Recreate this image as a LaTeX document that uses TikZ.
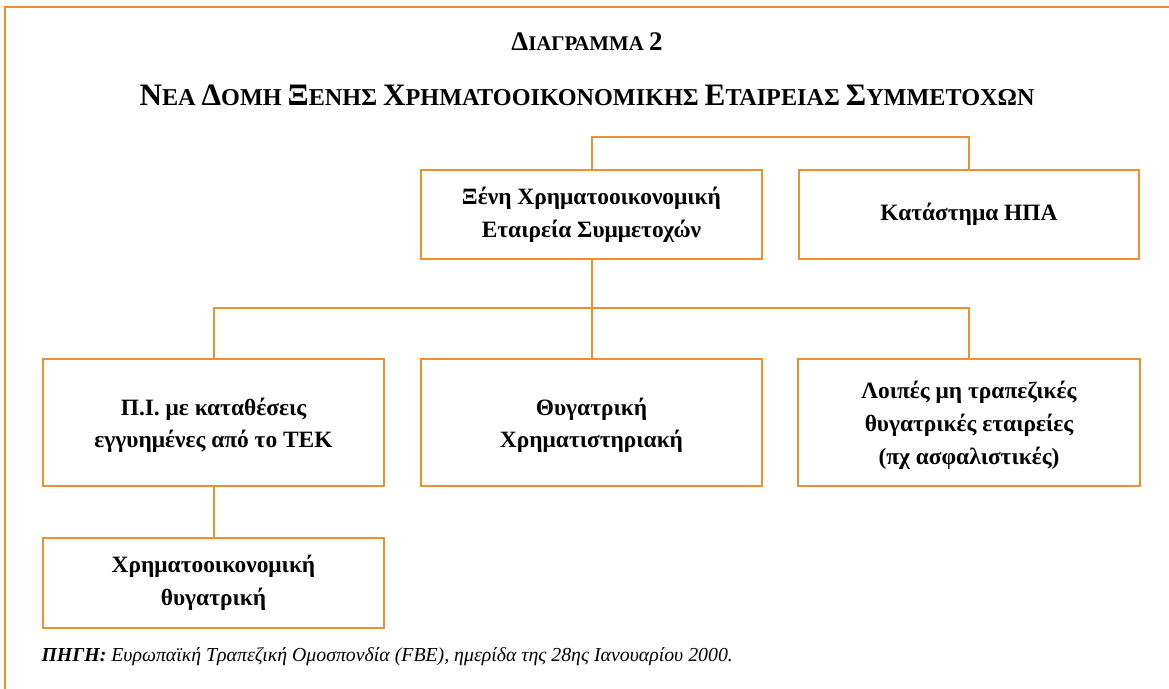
\documentclass[tikz,border=0pt]{standalone}
\usepackage{fontspec}
\setmainfont{Liberation Serif}
\usepackage{tikz}
\usetikzlibrary{positioning}
\definecolor{chartorange}{RGB}{234,145,48}

% word in faked small capitals: big first letter, smaller rest
\newcommand{\capword}[3][1]{{\fontsize{#1\dimexpr29pt}{30}\selectfont #2}{\fontsize{#1\dimexpr22.5pt}{24}\selectfont #3}}

\tikzset{
  orgbox/.style={draw=chartorange, line width=1.4pt, minimum width=341bp,
    align=center, inner sep=0pt, font=\bfseries\fontsize{23.5}{33}\selectfont},
  orgline/.style={draw=chartorange, line width=1.5pt},
  linkline/.style={draw=chartorange, line width=2bp}
}

\begin{document}
\begin{tikzpicture}[x=1bp, y=-1bp]
  \useasboundingbox (0,0) rectangle (1169,689);

  % Frame (top and left only)
  \draw[orgline] (5,689) -- (5,7) -- (1169,7);

  % Titles
  \node[font=\bfseries\fontsize{21}{24}\selectfont] (title) at (587,42)
    {\capword[0.93]{Δ}{ΙΑΓΡΑΜΜΑ} \capword[0.93]{2}{}};
  \node[font=\bfseries\fontsize{24}{24}\selectfont] (subtitle) at (587,95)
    {\capword[1.08]{Ν}{ΕΑ} \capword[1.08]{Δ}{ΟΜΗ} \capword[1.08]{Ξ}{ΕΝΗΣ}
    \capword[1.08]{Χ}{ΡΗΜΑΤΟΟΙΚΟΝΟΜΙΚΗΣ} \capword[1.08]{Ε}{ΤΑΙΡΕΙΑΣ}
    \capword[1.08]{Σ}{ΥΜΜΕΤΟΧΩΝ}};

  % Upper level
  \node[orgbox, minimum height=89bp] (holding) at (591.5,214.5)
    {Ξένη Χρηματοοικονομική\\Εταιρεία Συμμετοχών};
  \node[orgbox, minimum height=89bp, minimum width=340bp] (branch) at (969,214.5)
    {Κατάστημα ΗΠΑ};

  % Subsidiaries
  \node[orgbox, minimum height=127bp] (bank) at (213.5,422.5)
    {\rule{0pt}{23pt}Π.Ι. με καταθέσεις\\εγγυημένες από το ΤΕΚ};
  \node[orgbox, minimum height=127bp] (broker) at (591.5,422.5)
    {\rule{0pt}{23pt}Θυγατρική\\Χρηματιστηριακή};
  \node[orgbox, minimum height=127bp, minimum width=342bp] (other) at (969,422.5)
    {\rule{0pt}{23pt}Λοιπές μη τραπεζικές\\θυγατρικές εταιρείες\\(πχ ασφαλιστικές)};
  \node[orgbox, minimum height=90bp] (finsub) at (213.5,583)
    {Χρηματοοικονομική\\θυγατρική};

  % Connectors
  \draw[linkline] (holding.north) -- ++(0,-32.5) -| (branch.north);
  \draw[linkline] (holding.south) -- (broker.north);
  \draw[linkline] (bank.north) -- ++(0,-50.5) -| (other.north);
  \draw[linkline] (bank.south) -- (finsub.north);

  % Source
  \node[anchor=west, font=\itshape\fontsize{19.9}{22}\selectfont] (source) at (38,657)
    {\textbf{ΠΗΓΗ:} Ευρωπαϊκή Τραπεζική Ομοσπονδία (FBE), ημερίδα της 28ης Ιανουαρίου 2000.};
\end{tikzpicture}
\end{document}
